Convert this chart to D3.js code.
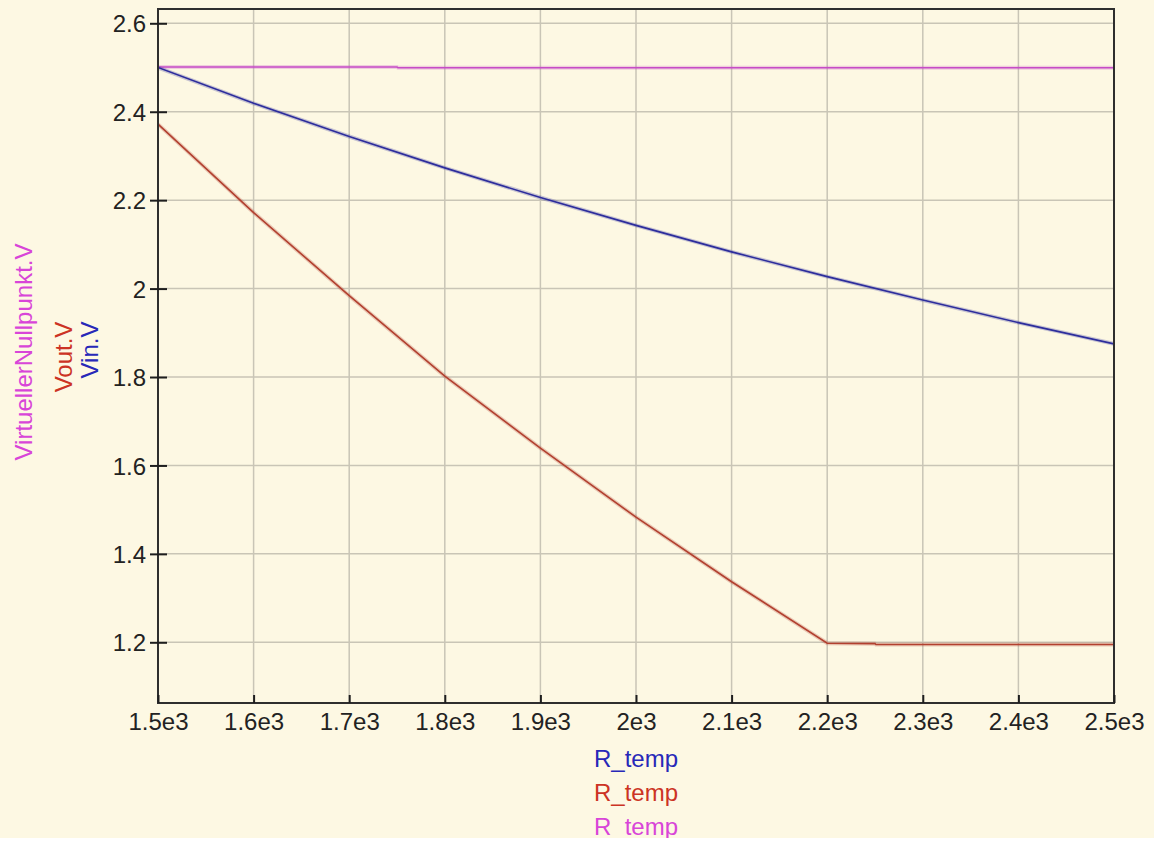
<!DOCTYPE html>
<html><head><meta charset="utf-8">
<script src="https://cdn.jsdelivr.net/npm/d3@7"></script>
<style>
html,body{margin:0;padding:0;background:#ffffff;}
svg{display:block;}
text{font-family:"Liberation Sans","DejaVu Sans",Arial,sans-serif;}
</style></head>
<body>
<script>
// Data
const xTicks = [1500,1600,1700,1800,1900,2000,2100,2200,2300,2400,2500];
const xTickLabels = ["1.5e3","1.6e3","1.7e3","1.8e3","1.9e3","2e3","2.1e3","2.2e3","2.3e3","2.4e3","2.5e3"];
const yTicks = [1.2,1.4,1.6,1.8,2.0,2.2,2.4,2.6];
const yTickLabels = ["1.2","1.4","1.6","1.8","2","2.2","2.4","2.6"];

const vinR = [1500,1600,1700,1800,1900,2000,2100,2200,2300,2400,2500];
const vinV = [2.5,2.419,2.344,2.273,2.206,2.143,2.083,2.027,1.974,1.923,1.875];

const voutR = [1500,1600,1700,1800,1900,2000,2100,2200,2250,2251,2500];
const voutV = [2.372,2.172,1.984,1.802,1.639,1.483,1.337,1.198,1.197,1.195,1.195];

const vnR = [1500,1750,1751,2500];
const vnV = [2.501,2.501,2.4995,2.4995];

const series = [
  {name:"Vin.V", xs:vinR, ys:vinV, color:"#2d2d9c", text:"#2828b8"},
  {name:"Vout.V", xs:voutR, ys:voutV, color:"#b2402f", text:"#cc3324"},
  {name:"VirtuellerNullpunkt.V", xs:vnR, ys:vnV, color:"#c64cc6", text:"#d845d8"}
];

const W = 1154, H = 845;
const pL = 158, pR = 1114, pT = 9, pB = 703;

const svg = d3.select("body").append("svg").attr("width",W).attr("height",H);
svg.append("rect").attr("x",0).attr("y",0).attr("width",W).attr("height",838).attr("fill","#fdf8e3");

const x = d3.scaleLinear().domain([1500,2500]).range([pL,pR]);
const y = d3.scaleLinear().domain([1.2,2.6]).range([642.3,23.3]);

// grid
const grid = svg.append("g");
grid.selectAll("line.gx").data(xTicks).join("line").attr("class","gx")
  .attr("x1",d=>x(d)).attr("x2",d=>x(d)).attr("y1",pT).attr("y2",pB)
  .attr("stroke","#c9c5b6").attr("stroke-width",1.5);
grid.selectAll("line.gy").data(yTicks).join("line").attr("class","gy")
  .attr("y1",d=>y(d)).attr("y2",d=>y(d)).attr("x1",pL).attr("x2",pR)
  .attr("stroke","#c9c5b6").attr("stroke-width",1.5);

// clip
svg.append("clipPath").attr("id","clip").append("rect")
  .attr("x",pL).attr("y",pT).attr("width",pR-pL).attr("height",pB-pT);

const line = d3.line().x(d=>x(d[0])).y(d=>y(d[1]));
const lines = svg.append("g").attr("clip-path","url(#clip)");
[series[2],series[1],series[0]].forEach(s=>{
  const pts = s.xs.map((v,i)=>[v,s.ys[i]]);
  lines.append("path").datum(pts).attr("d",line).attr("fill","none")
    .attr("stroke",s.color).attr("stroke-opacity",0.25).attr("stroke-width",4);
  lines.append("path").datum(pts).attr("d",line).attr("fill","none")
    .attr("stroke",s.color).attr("stroke-width",1.6);
});

// frame
svg.append("rect").attr("x",pL).attr("y",pT).attr("width",pR-pL).attr("height",pB-pT)
  .attr("fill","none").attr("stroke","#2e2e2e").attr("stroke-width",2);

// y axis ticks and labels
const yAxis = d3.axisLeft(y).tickValues(yTicks).tickFormat((d,i)=>yTickLabels[i]).tickSizeInner(8).tickSizeOuter(0).tickPadding(4);
const yg = svg.append("g").attr("transform",`translate(${pL},0)`).call(yAxis);
yg.select(".domain").remove();
yg.selectAll(".tick line").attr("x1",-8).attr("x2",9).attr("stroke","#1e1e1e").attr("stroke-width",2);
yg.selectAll(".tick text").attr("font-size",24).attr("fill","#222").attr("dy","0.36em")
  .style("font-family","'Liberation Sans',Arial,sans-serif");

// x axis ticks and labels
const xAxis = d3.axisBottom(x).tickValues(xTicks).tickFormat((d,i)=>xTickLabels[i]).tickSizeInner(0).tickSizeOuter(0).tickPadding(0);
const xg = svg.append("g").attr("transform",`translate(0,${pB})`).call(xAxis);
xg.select(".domain").remove();
xg.selectAll(".tick line").attr("y1",0).attr("y2",-8).attr("stroke","#1e1e1e").attr("stroke-width",2);
xg.selectAll(".tick text").attr("font-size",24).attr("fill","#222").attr("y",27).attr("dy",0)
  .style("font-family","'Liberation Sans',Arial,sans-serif");

// y labels (rotated)
const yLab = [
  {s:series[2], x:32, y:352},
  {s:series[1], x:72, y:357},
  {s:series[0], x:98, y:350}
];
yLab.forEach(l=>{
  svg.append("text").attr("transform",`translate(${l.x},${l.y}) rotate(-90)`)
    .attr("text-anchor","middle").attr("font-size",24).attr("fill",l.s.text).text(l.s.name);
});

// x labels
const xLab = [
  {s:series[0], y:767},
  {s:series[1], y:801},
  {s:series[2], y:835}
];
xLab.forEach(l=>{
  svg.append("text").attr("x",(pL+pR)/2).attr("y",l.y).attr("text-anchor","middle")
    .attr("font-size",24).attr("fill",l.s.text).text("R_temp");
});
svg.append("rect").attr("x",0).attr("y",838).attr("width",W).attr("height",H-838).attr("fill","#ffffff");
</script>
</body></html>
